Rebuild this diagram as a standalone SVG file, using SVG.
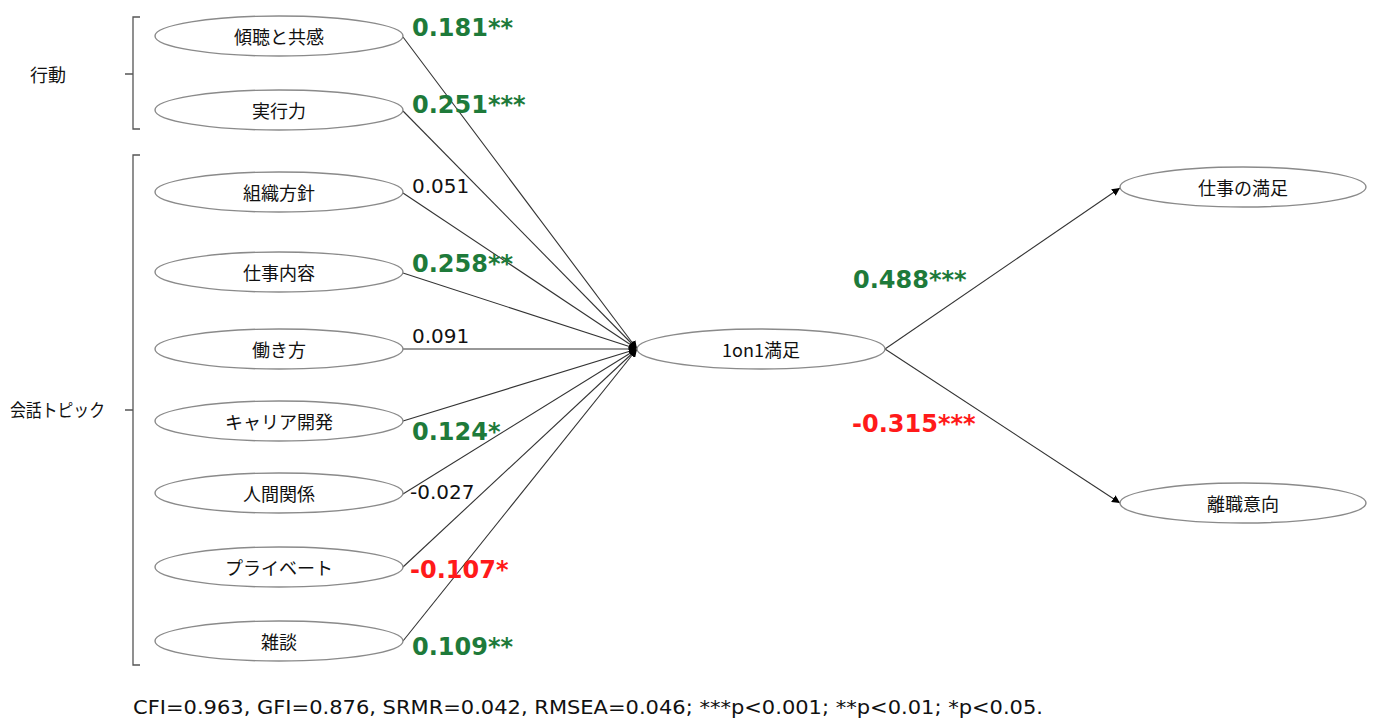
<svg xmlns="http://www.w3.org/2000/svg" width="1379" height="721" viewBox="0 0 1379 721">
<defs>
<marker id="ah" viewBox="0 0 10 10" refX="10" refY="5" markerWidth="8" markerHeight="8" markerUnits="userSpaceOnUse" orient="auto"><path d="M0,0 L10,5 L0,10 z" fill="#000"/></marker>
<style>
.node ellipse{fill:#fff;stroke:#8a8a8a;stroke-width:1.4}
.node text{font-family:"Noto Sans CJK JP","Noto Sans",sans-serif;font-size:18px;fill:#111;text-anchor:middle;dominant-baseline:central}
.grp{font-family:"Noto Sans CJK JP",sans-serif;font-size:18px;fill:#111}
.br{fill:none;stroke:#555;stroke-width:1.3}
.edge{stroke:#333;stroke-width:1.1;fill:none;marker-end:url(#ah)}
.lbl{font-family:"DejaVu Sans","Noto Sans",sans-serif;font-size:20px;fill:#111}
.sig{font-family:"DejaVu Sans",sans-serif;font-size:24px;font-weight:bold}
.g{fill:#1e7a3a}.r{fill:#ff1a1a}
.foot{font-family:"DejaVu Sans",sans-serif;font-size:20px;fill:#111}
</style>
</defs>
<rect width="1379" height="721" fill="#fff"/>
<g id="brackets">
<path class="br" d="M140,17 H133 V129 H140 M133,74 H125"/>
<path class="br" d="M140,155 H133 V665 H140 M133,410 H125"/>
<text class="grp" x="30" y="82">行動</text>
<text class="grp" x="10" y="417" font-size="16" textLength="95" lengthAdjust="spacingAndGlyphs">会話トピック</text>
</g>
<g id="connectors">
<line class="edge" x1="403" y1="37" x2="637" y2="349"/>
<line class="edge" x1="403" y1="111" x2="637" y2="349"/>
<line class="edge" x1="403" y1="193" x2="637" y2="349"/>
<line class="edge" x1="403" y1="273" x2="637" y2="349"/>
<line class="edge" x1="403" y1="349" x2="637" y2="349"/>
<line class="edge" x1="403" y1="421" x2="637" y2="349"/>
<line class="edge" x1="403" y1="494" x2="637" y2="349"/>
<line class="edge" x1="403" y1="567" x2="637" y2="349"/>
<line class="edge" x1="403" y1="641" x2="637" y2="349"/>
<line class="edge" x1="885" y1="349" x2="1120" y2="188"/>
<line class="edge" x1="885" y1="349" x2="1120" y2="503"/>
</g>
<g id="n1" class="node"><ellipse cx="279" cy="36" rx="124" ry="20"/><text x="279" y="36">傾聴と共感</text></g>
<g id="n2" class="node"><ellipse cx="279" cy="110" rx="124" ry="20"/><text x="279" y="110">実行力</text></g>
<g id="n3" class="node"><ellipse cx="279" cy="192" rx="124" ry="20"/><text x="279" y="192">組織方針</text></g>
<g id="n4" class="node"><ellipse cx="279" cy="272" rx="124" ry="20"/><text x="279" y="272">仕事内容</text></g>
<g id="n5" class="node"><ellipse cx="279" cy="349" rx="124" ry="20"/><text x="279" y="349">働き方</text></g>
<g id="n6" class="node"><ellipse cx="279" cy="421" rx="124" ry="20"/><text x="279" y="421">キャリア開発</text></g>
<g id="n7" class="node"><ellipse cx="279" cy="493" rx="124" ry="20"/><text x="279" y="493">人間関係</text></g>
<g id="n8" class="node"><ellipse cx="279" cy="567" rx="124" ry="20"/><text x="279" y="567">プライベート</text></g>
<g id="n9" class="node"><ellipse cx="279" cy="641" rx="124" ry="20"/><text x="279" y="641">雑談</text></g>
<g id="center" class="node"><ellipse cx="761" cy="349" rx="124" ry="20"/><text x="761" y="349">1on1満足</text></g>
<g id="out1" class="node"><ellipse cx="1243" cy="187" rx="123" ry="20"/><text x="1243" y="187">仕事の満足</text></g>
<g id="out2" class="node"><ellipse cx="1243" cy="503" rx="123" ry="20"/><text x="1243" y="503">離職意向</text></g>
<g id="labels">
<text class="sig g" x="412" y="36">0.181**</text>
<text class="sig g" x="412" y="113">0.251***</text>
<text class="lbl" x="412" y="193">0.051</text>
<text class="sig g" x="412" y="272">0.258**</text>
<text class="lbl" x="412" y="343">0.091</text>
<text class="sig g" x="412" y="440">0.124*</text>
<text class="lbl" x="410" y="499">-0.027</text>
<text class="sig r" x="410" y="578">-0.107*</text>
<text class="sig g" x="412" y="655">0.109**</text>
<text class="sig g" x="853" y="288">0.488***</text>
<text class="sig r" x="852" y="432">-0.315***</text>
<text class="foot" x="133" y="714" textLength="910" lengthAdjust="spacingAndGlyphs">CFI=0.963, GFI=0.876, SRMR=0.042, RMSEA=0.046; ***p&lt;0.001; **p&lt;0.01; *p&lt;0.05.</text>
</g>
</svg>
